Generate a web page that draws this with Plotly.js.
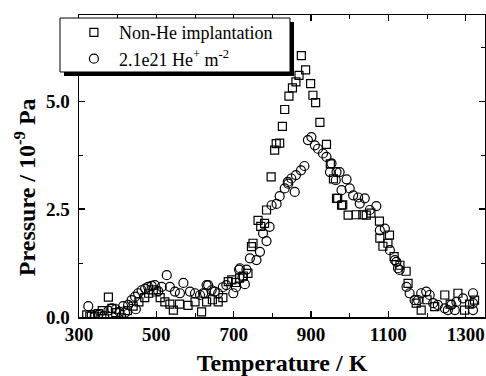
<!DOCTYPE html>
<html>
<head>
<meta charset="utf-8">
<script src="https://cdn.plot.ly/plotly-3.0.1.min.js"></script>
<style>html,body{margin:0;padding:0;background:#fff}#chart{width:486px;height:376px}</style>
</head>
<body>
<div id="chart"></div>
<script>
// Non-He implantation (squares)
const tempNonHe = [320,328,340,350,360,376,385,395,410,425,440,455,470,480,492,500,510,522,535,544,560,582,600,617,630,645,660,672,686,695,705,715,725,737,746,750,763,770,780,785,797,806,810,819,826,832,843,852,861,869,875,886,899,905,912,923,940,950,958,966,969,979,982,996,1017,1034,1043,1055,1077,1078,1086,1099,1103,1115,1130,1146,1151,1172,1185,1200,1220,1246,1260,1280,1297,1310,1323];
const presNonHe = [0.05,0.02,0.0,0.08,0.15,0.46,0.2,0.1,-0.02,0.15,0.25,0.35,0.45,0.55,0.63,0.58,0.45,0.35,0.3,0.16,0.3,0.27,0.35,0.12,0.35,0.4,0.35,0.45,0.82,0.86,0.8,0.9,0.95,1.01,1.63,1.71,2.24,2.1,2.17,2.48,3.25,3.87,4.02,4.03,4.42,4.81,5.12,5.31,5.45,5.6,6.06,5.73,5.41,5.14,4.97,4.51,4.0,3.55,3.2,2.75,2.75,2.59,2.6,2.36,2.37,2.37,2.36,2.41,2.22,1.83,1.64,1.71,1.9,1.4,1.2,1.06,0.78,0.32,0.16,0.4,0.24,0.51,0.3,0.55,0.16,0.3,0.39];
// 2.1e21 He+ m-2 (circles)
const tempHe = [324,333,341,350,358,365,376,385,395,405,414,419,427,436,445,447,453,462,471,479,488,496,505,514,527,535,548,561,570,587,600,613,621,626,630,634,643,651,660,672,681,699,706,714,716,723,729,733,742,759,768,776,785,793,798,811,819,832,840,841,849,858,861,874,883,892,901,910,918,931,940,949,953,964,966,974,979,992,1000,1009,1022,1026,1039,1052,1069,1078,1091,1104,1117,1121,1125,1129,1147,1155,1168,1177,1185,1198,1207,1216,1228,1246,1254,1263,1272,1276,1293,1319,1319,1319];
const presHe = [0.25,0.05,0.02,0.05,0.0,0.02,0.15,0.2,0.18,0.12,0.25,0.1,0.28,0.39,0.47,0.18,0.55,0.62,0.66,0.70,0.72,0.74,0.6,0.70,0.97,0.70,0.59,0.55,0.79,0.59,0.55,0.51,0.55,0.55,0.74,0.74,0.62,0.59,0.55,0.69,0.74,0.55,0.69,1.1,1.13,0.93,0.76,1.1,1.36,1.32,1.51,1.94,1.76,2.09,2.59,2.62,2.8,2.98,3.13,3.09,3.21,2.9,3.29,3.4,3.5,4.1,4.17,3.98,3.9,3.79,3.71,3.36,3.56,3.17,3.36,3.36,2.94,3.19,2.98,2.82,2.77,2.63,2.75,2.48,2.57,2.01,2.05,1.55,1.32,1.28,1.13,1.09,0.70,0.55,0.39,0.39,0.55,0.59,0.51,0.32,0.28,0.2,0.16,0.28,0.16,0.35,0.43,0.55,0.32,0.16];

const seriesNames = ['Non-He implantation', '2.1e21 He<sup>+</sup> m<sup>-2</sup>'];
const xTickVals = [300,500,700,900,1100,1300];
const yTickVals = [0,2.5,5.0];
const xTitle = 'Temperature / K';
const yTitle = 'Pressure / 10<sup>-9</sup> Pa';

const FONT = 'Liberation Serif, Times New Roman, serif';

const traces = [
  {x: tempNonHe, y: presNonHe, name: seriesNames[0], type:'scatter', mode:'markers',
   marker:{symbol:'square-open', size:8, color:'#000', line:{width:1.2, color:'#000'}}},
  {x: tempHe, y: presHe, name: seriesNames[1], type:'scatter', mode:'markers',
   marker:{symbol:'circle-open', size:9, color:'#000', line:{width:1.2, color:'#000'}}}
];

const axisCommon = {
  showgrid:false, zeroline:false, showline:true, linecolor:'#000', linewidth:1.5,
  mirror:'ticks', ticks:'inside', ticklen:6, tickwidth:1.5, tickcolor:'#000',
  tickfont:{family:FONT, size:19, color:'#000', weight:'bold'}
};

const layout = {
  width:486, height:376,
  margin:{l:79, r:1, t:15, b:59},
  paper_bgcolor:'#fff', plot_bgcolor:'#fff',
  showlegend:true,
  font:{family:FONT, color:'#000'},
  xaxis: Object.assign({}, axisCommon, {
    range:[300,1350], tickmode:'array', tickvals:xTickVals, ticktext:xTickVals.map(String),
    minor:{dtick:100, tick0:300, ticks:'inside', ticklen:4, tickwidth:1, tickcolor:'#000'},
    title:{text:xTitle, font:{family:FONT, size:24, color:'#000', weight:'bold'}, standoff:14}
  }),
  yaxis: Object.assign({}, axisCommon, {
    range:[0,7], tickmode:'array', tickvals:yTickVals, ticktext:yTickVals.map(v=>v.toFixed(1)),
    minor:{dtick:1.25, tick0:0, ticks:'inside', ticklen:4, tickwidth:1, tickcolor:'#000'},
    ticklabelstandoff:4
  }),
  annotations:[{
    text:yTitle, textangle:-90, xref:'paper', yref:'paper',
    x:-0.133, y:0.43, xanchor:'center', yanchor:'middle', showarrow:false,
    font:{family:FONT, size:24, color:'#000', weight:'bold'}
  }],
  shapes:[
    {type:'rect', xref:'paper', yref:'paper', layer:'above',
     x0:-0.0369, x1:0.5296, y0:0.798, y1:0.9768, fillcolor:'#000', line:{width:0}},
    {type:'rect', xref:'paper', yref:'paper', layer:'above',
     x0:-0.0468, x1:0.5197, y0:0.8113, y1:0.990, fillcolor:'#fff', line:{width:1, color:'#000'}}
  ],
  legend:{
    x:-0.047, y:1.003, xanchor:'left', yanchor:'top',
    bgcolor:'rgba(0,0,0,0)', borderwidth:0,
    font:{family:FONT, size:18, color:'#000'},
    indentation:9, itemwidth:40, tracegroupgap:0
  }
};

Plotly.newPlot('chart', traces, layout, {displayModeBar:false, staticPlot:true});
</script>
</body>
</html>
